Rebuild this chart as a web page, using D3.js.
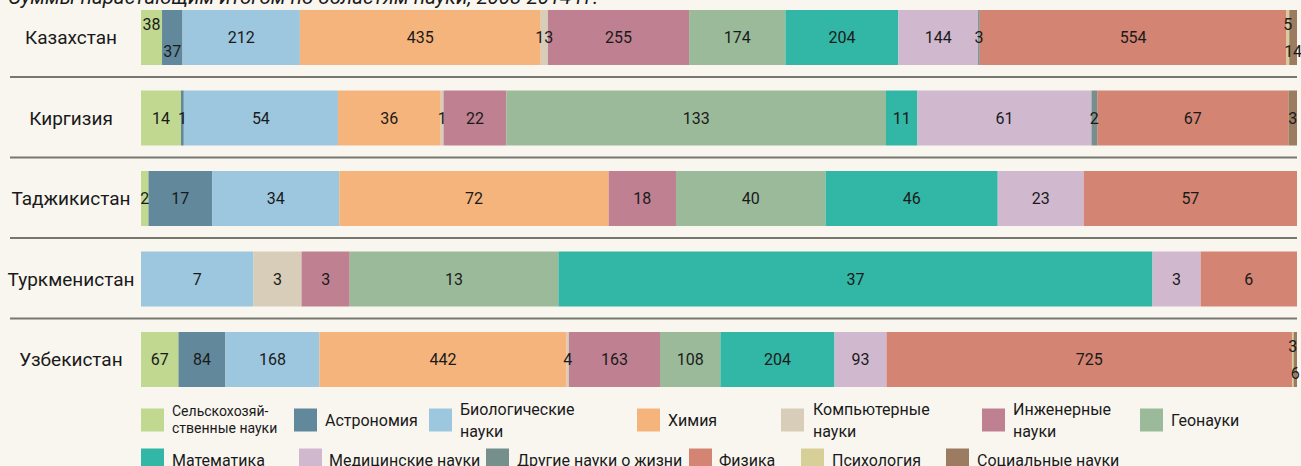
<!DOCTYPE html>
<html>
<head>
<meta charset="utf-8">
<script src="https://cdn.jsdelivr.net/npm/d3@7"></script>
<style>
  body { margin: 0; background: #f9f6f0; }
  svg { display: block; font-family: Roboto, "Open Sans", sans-serif; }
</style>
</head>
<body>
<div id="chart"></div>
<script>
// Countries (rows)
const countries = ["Казахстан", "Киргизия", "Таджикистан", "Туркменистан", "Узбекистан"];

// Fields of science (stack order)
const fields = [
  "Сельскохозяй-\nственные науки", "Астрономия", "Биологические\nнауки", "Химия",
  "Компьютерные\nнауки", "Инженерные\nнауки", "Геонауки", "Математика",
  "Медицинские науки", "Другие науки о жизни", "Физика", "Психология", "Социальные науки"
];

const colors = [
  "#c0d890", "#62889c", "#9dc7df", "#f6b47d", "#d7cdb8", "#bf8191", "#9bba9a",
  "#32b6a5", "#d0b8cf", "#758f8c", "#d38473", "#d7cf98", "#9c7c60"
];

// Cumulative counts by field, 2008-2014
const kazakhstan   = [38, 37, 212, 435, 13, 255, 174, 204, 144, 3, 554, 5, 14];
const kyrgyzstan   = [14, 1, 54, 36, 1, 22, 133, 11, 61, 2, 67, 0, 3];
const tajikistan   = [2, 17, 34, 72, 0, 18, 40, 46, 23, 0, 57, 0, 0];
const turkmenistan = [0, 0, 7, 0, 3, 3, 13, 37, 3, 0, 6, 0, 0];
const uzbekistan   = [67, 84, 168, 442, 4, 163, 108, 204, 93, 0, 725, 3, 6];

const rows = [kazakhstan, kyrgyzstan, tajikistan, turkmenistan, uzbekistan];

const width = 1301, height = 466;
const svg = d3.select("#chart").append("svg")
  .attr("width", width)
  .attr("height", height);

svg.append("rect").attr("width", width).attr("height", height).attr("fill", "#f9f6f0");

// Title (cut off at the top like the original)
svg.append("text")
  .attr("x", 8)
  .attr("y", 4)
  .attr("font-size", 20.5)
  .attr("font-style", "italic")
  .attr("fill", "#1a1a1a")
  .text("Суммы нарастающим итогом по областям науки, 2008-2014 гг.");

const yScale = d3.scaleBand()
  .domain(countries)
  .range([10, 387])
  .paddingInner(0.317)
  .paddingOuter(0);

// Separator lines between rows
svg.selectAll(".sep")
  .data(countries.slice(0, -1))
  .enter()
  .append("line")
  .attr("class", "sep")
  .attr("x1", 10)
  .attr("x2", 1297)
  .attr("y1", (d) => yScale(d) + yScale.bandwidth() + 12)
  .attr("y2", (d) => yScale(d) + yScale.bandwidth() + 12)
  .attr("stroke", "#77766f")
  .attr("stroke-width", 2);

// Country labels
svg.selectAll(".country")
  .data(countries)
  .enter()
  .append("text")
  .attr("class", "country")
  .attr("x", 71)
  .attr("y", (d) => yScale(d) + yScale.bandwidth() / 2)
  .attr("dy", "0.35em")
  .attr("text-anchor", "middle")
  .attr("font-size", 19)
  .attr("fill", "#1a1a1a")
  .text((d) => d);

// Stacked 100% bars, one row per country
countries.forEach((country, ri) => {
  const values = rows[ri];
  const total = d3.sum(values);
  const xScale = d3.scaleLinear().domain([0, total]).range([141, 1297]);

  let acc = 0;
  const segs = values.map((v, i) => {
    const s = { field: i, value: v, x0: acc, x1: acc + v };
    acc += v;
    return s;
  }).filter((s) => s.value > 0);

  // Stagger labels of two neighbouring narrow segments (one up, one down)
  segs.forEach((s) => {
    s.w = xScale(s.x1) - xScale(s.x0);
    s.pos = 0;
  });
  for (let k = 0; k < segs.length - 1; k++) {
    if (segs[k].w < 25 && segs[k + 1].w < 25 && segs[k].pos === 0) {
      segs[k].pos = -1;
      segs[k + 1].pos = 1;
    }
  }

  const g = svg.append("g").attr("class", "row");
  const y0 = yScale(country);
  const bh = yScale.bandwidth();

  g.selectAll(".bar")
    .data(segs)
    .enter()
    .append("rect")
    .attr("class", "bar")
    .attr("x", (d) => xScale(d.x0))
    .attr("y", y0)
    .attr("width", (d) => xScale(d.x1) - xScale(d.x0))
    .attr("height", bh)
    .attr("fill", (d) => colors[d.field]);

  g.selectAll(".val")
    .data(segs)
    .enter()
    .append("text")
    .attr("class", "val")
    .attr("x", (d) => (xScale(d.x0) + xScale(d.x1)) / 2)
    .attr("y", (d) => y0 + bh / 2 + d.pos * 13.5)
    .attr("dy", "0.35em")
    .attr("text-anchor", "middle")
    .attr("font-size", 16)
    .attr("fill", "#1a1a1a")
    .text((d) => d.value);
});

// Legend layout: [row, swatch x, text x]
const legendLayout = [
  [0, 141, 172], [0, 294, 325], [0, 429, 460], [0, 637, 668], [0, 781, 813],
  [0, 982, 1013], [0, 1140, 1171],
  [1, 141, 172], [1, 299, 329], [1, 486, 517], [1, 689, 719], [1, 801, 832],
  [1, 946, 977]
];
const legendRowY = [420, 460];

const legend = svg.append("g").attr("class", "legend");
fields.forEach((f, i) => {
  const [row, sx, tx] = legendLayout[i];
  const cy = legendRowY[row];
  legend.append("rect")
    .attr("x", sx)
    .attr("y", cy - 11.5)
    .attr("width", 23)
    .attr("height", 23)
    .attr("fill", colors[i]);

  const lines = f.split("\n");
  const small = i === 0;
  const fs = small ? 14 : 16;
  const lh = small ? 17 : 22;
  const t = legend.append("text")
    .attr("x", tx)
    .attr("font-size", fs)
    .attr("fill", "#1a1a1a");
  lines.forEach((ln, j) => {
    t.append("tspan")
      .attr("x", tx)
      .attr("y", cy + (j - (lines.length - 1) / 2) * lh)
      .attr("dy", "0.35em")
      .text(ln);
  });
});
</script>
</body>
</html>
